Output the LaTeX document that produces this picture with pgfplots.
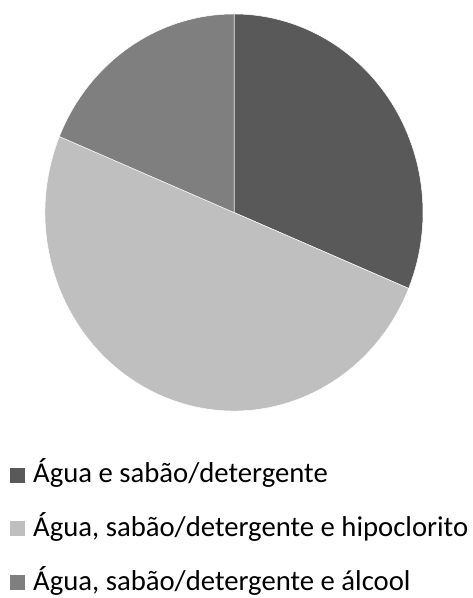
\documentclass[border=0pt]{standalone}
\usepackage{pgfplots}
\pgfplotsset{compat=1.18}
\usepackage{pgfplotstable}
\usepackage{fontspec}
\setmainfont{Carlito}
\definecolor{cDark}{HTML}{595959}
\definecolor{cLight}{HTML}{BFBFBF}
\definecolor{cMid}{HTML}{7F7F7F}

\pgfplotstableread{
count
5
8
3
}\piedata

\pgfplotstablegetelem{0}{count}\of\piedata\edef\nA{\pgfplotsretval}
\pgfplotstablegetelem{1}{count}\of\piedata\edef\nB{\pgfplotsretval}
\pgfplotstablegetelem{2}{count}\of\piedata\edef\nC{\pgfplotsretval}
\pgfmathsetmacro\tot{\nA+\nB+\nC}
\pgfmathsetmacro\aS{90}
\pgfmathsetmacro\aA{90-360*\nA/\tot}
\pgfmathsetmacro\aB{\aA-360*\nB/\tot}
\pgfmathsetmacro\aC{\aB-360*\nC/\tot}
\def\cx{234}\def\cy{385.5}\def\rx{189}\def\ry{198.5}
\pgfmathsetmacro\xS{\cx+\rx*cos(\aS)}\pgfmathsetmacro\yS{\cy+\ry*sin(\aS)}
\pgfmathsetmacro\xA{\cx+\rx*cos(\aA)}\pgfmathsetmacro\yA{\cy+\ry*sin(\aA)}
\pgfmathsetmacro\xB{\cx+\rx*cos(\aB)}\pgfmathsetmacro\yB{\cy+\ry*sin(\aB)}

\newcommand\legfont{\fontsize{28.7bp}{32bp}\selectfont}

\begin{document}
\begin{tikzpicture}
\begin{axis}[
  scale only axis, width=473bp, height=598bp,
  xmin=0, xmax=473, ymin=0, ymax=598,
  hide axis, clip=false,
]
\path (axis cs:0,0) rectangle (axis cs:473,598);
% pie slices
\fill[cDark, draw=white, line width=0.5bp] (axis cs:\cx,\cy) -- (axis cs:\xS,\yS)
  arc[start angle=\aS, end angle=\aA, x radius=\rx, y radius=\ry] -- cycle;
\fill[cLight, draw=white, line width=0.5bp] (axis cs:\cx,\cy) -- (axis cs:\xA,\yA)
  arc[start angle=\aA, end angle=\aB, x radius=\rx, y radius=\ry] -- cycle;
\fill[cMid, draw=white, line width=0.5bp] (axis cs:\cx,\cy) -- (axis cs:\xB,\yB)
  arc[start angle=\aB, end angle=\aC, x radius=\rx, y radius=\ry] -- cycle;
% legend
\fill[cDark] (axis cs:10,115) rectangle (axis cs:25,130);
\node[anchor=base west, inner sep=0pt, font=\legfont] at (axis cs:33,115) {Água e sabão/detergente};
\fill[cLight] (axis cs:10,62) rectangle (axis cs:25,77);
\node[anchor=base west, inner sep=0pt, font=\legfont] at (axis cs:33,61.5) {Água, sabão/detergente e hipoclorito};
\fill[cMid] (axis cs:10,8) rectangle (axis cs:25,23);
\node[anchor=base west, inner sep=0pt, font=\legfont] at (axis cs:33,8) {Água, sabão/detergente e álcool};
\end{axis}
\end{tikzpicture}
\end{document}
